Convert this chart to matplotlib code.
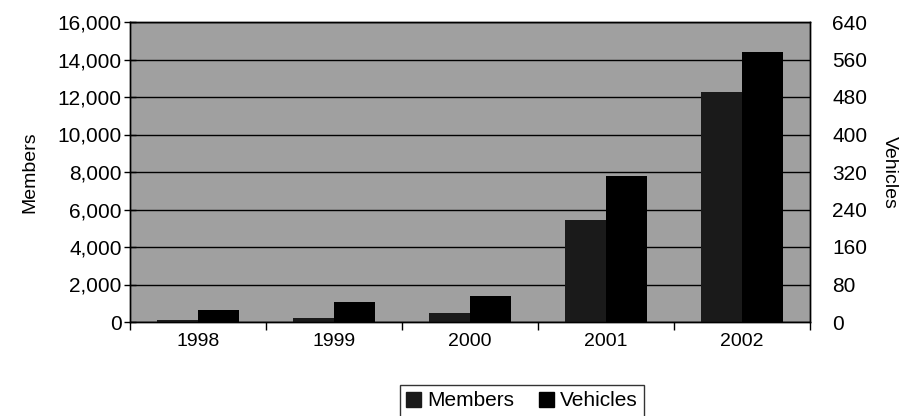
import matplotlib
matplotlib.use("Agg")
import matplotlib.pyplot as plt
import numpy as np
from matplotlib.ticker import FuncFormatter, FixedLocator
from matplotlib.patches import Patch

years = ["1998", "1999", "2000", "2001", "2002"]
members = [100, 200, 480, 5450, 12270]
vehicles = [26, 42, 56, 312, 577]

plt.rcParams['font.family'] = ['Liberation Sans', 'DejaVu Sans']

fig = plt.figure(figsize=(9, 4.16), dpi=100)
ax = fig.add_axes([130/900, 1-322/416, 680/900, 300/416])
ax2 = ax.twinx()

x = np.arange(len(years))
w = 0.3
ax.set_facecolor("#a0a0a0")
ax.bar(x - w/2, members, width=w, color="#1a1a1a", zorder=3, label="Members")
ax2.bar(x + w/2, vehicles, width=w, color="black", zorder=3, label="Vehicles")

ax.set_xlim(-0.5, len(years) - 0.5)
ax.set_ylim(0, 16000)
ax2.set_ylim(0, 640)
ax.set_yticks(np.arange(0, 16001, 2000))
ax2.set_yticks(np.arange(0, 641, 80))
ax.yaxis.set_major_formatter(FuncFormatter(lambda v, p: f"{int(v):,}"))
ax.grid(axis="y", color="black", linewidth=1.0, zorder=1)
ax.set_axisbelow(True)

ax.set_xticks(x)
ax.set_xticklabels(years)
ax.tick_params(axis="x", which="major", length=0, pad=8, labelsize=14)
ax.xaxis.set_minor_locator(FixedLocator(np.arange(-0.5, len(years), 1.0)))
ax.tick_params(axis="x", which="minor", length=6, direction="out", width=1)
ax.tick_params(axis="y", direction="inout", length=8, width=1, labelsize=15, pad=2)
ax2.tick_params(axis="y", length=0, labelsize=15, pad=16)
for lab in ax2.get_yticklabels():
    lab.set_horizontalalignment("left")

for a in (ax, ax2):
    for s in a.spines.values():
        s.set_color("black")
        s.set_linewidth(1.0)

ax.set_ylabel("Members", fontsize=14, labelpad=14)
ax2.set_ylabel("Vehicles", fontsize=14, rotation=270, labelpad=22)

handles = [Patch(facecolor="#1a1a1a", edgecolor="#1a1a1a", label="Members"),
           Patch(facecolor="black", edgecolor="black", label="Vehicles")]
fig.legend(handles=handles, loc="center", bbox_to_anchor=(522/900, 1-401/416),
           ncol=2, frameon=True, fancybox=False, edgecolor="black", fontsize=15,
           handlelength=0.7, handleheight=0.7, handletextpad=0.3, columnspacing=1.2,
           borderpad=0.3)

fig.savefig("out.png", dpi=100)
